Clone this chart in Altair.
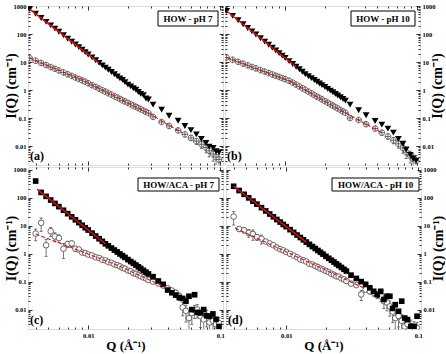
import altair as alt
import pandas as pd

FONT = "Liberation Serif"
RED = "#e01010"

# ---------------- data ----------------
Q_TOP = [0.0036, 0.0040, 0.0044, 0.0048, 0.0052, 0.0056, 0.0060, 0.0065, 0.0070, 0.0075,
         0.0080, 0.0085, 0.0090, 0.0095, 0.0100, 0.0107, 0.0114, 0.0121, 0.0128, 0.0135,
         0.0142, 0.0150, 0.0158, 0.0166, 0.0174, 0.0182, 0.0190, 0.0200, 0.0210, 0.0220,
         0.0230, 0.0240, 0.0250, 0.0262, 0.0274, 0.0286,
         0.0310, 0.0360, 0.0410, 0.0480, 0.0540, 0.0600, 0.0660, 0.0720, 0.0780, 0.0825,
         0.0885, 0.0930, 0.0980]
Q_BOT = [0.0040, 0.0044, 0.0048, 0.0052, 0.0056, 0.0060, 0.0065, 0.0070, 0.0075,
         0.0080, 0.0085, 0.0090, 0.0095, 0.0100, 0.0107, 0.0114, 0.0121, 0.0128, 0.0135,
         0.0142, 0.0150, 0.0158, 0.0166, 0.0174, 0.0182, 0.0190, 0.0200, 0.0210, 0.0220,
         0.0230, 0.0240, 0.0250, 0.0262, 0.0274, 0.0286,
         0.031, 0.034, 0.037, 0.040, 0.043, 0.046, 0.049, 0.052, 0.055, 0.058,
         0.061, 0.064, 0.067, 0.071, 0.075, 0.079, 0.083, 0.088, 0.093, 0.098]

# (a) HOW - pH 7
A_FILLED = [776, 528, 373, 272, 203, 155, 120, 90, 68, 53, 42, 34, 27.4, 22.5, 18.6, 14.6,
            11.6, 9.3, 7.6, 6.3, 5.3, 4.4, 3.65, 3.07, 2.6, 2.3, 1.91, 1.55, 1.35, 1.15,
            1.02, 0.85, 0.73, 0.66, 0.50, 0.46,
            0.30, 0.20, 0.12, 0.080, 0.052, 0.037, 0.026, 0.018, 0.013, 0.0095, 0.0085,
            0.0065, 0.0060]
A_OPEN = [13.8, 11.2, 9.2, 7.8, 6.6, 5.7, 5.0, 4.24, 3.65, 3.18, 2.79, 2.48, 2.21, 1.97,
          1.75, 1.49, 1.29, 1.12, 0.98, 0.87, 0.77, 0.68, 0.60, 0.54, 0.48, 0.43, 0.39,
          0.347, 0.31, 0.278, 0.25, 0.226, 0.206, 0.185, 0.166, 0.15,
          0.11, 0.072, 0.052, 0.036, 0.026, 0.0195, 0.015, 0.0115, 0.0088, 0.0068,
          0.0052, 0.0040, 0.0033]
A_ERR = [0.03, 0.03, 0.03, 0.03, 0.03, 0.03, 0.03, 0.03, 0.03, 0.03, 0.03, 0.03, 0.03, 0.03,
         0.04, 0.04, 0.04, 0.04, 0.04, 0.04, 0.04, 0.05, 0.05, 0.05, 0.05, 0.05, 0.05,
         0.06, 0.06, 0.06, 0.06, 0.07, 0.07, 0.08, 0.08, 0.09,
         0.08, 0.10, 0.12, 0.15, 0.18, 0.20, 0.25, 0.30, 0.35, 0.40, 0.45, 0.50, 0.55]
A_FIT_Q = [0.0036, 0.0121]
A_FIT_I = [776, 9.3]
A_DASH_Q = [0.0036, 0.0092, 0.0286, 0.052]
A_DASH_I = [13.8, 2.25, 0.15, 0.029]

# (b) HOW - pH 10
B_FILLED = [661, 444, 309, 223, 164, 124, 95.7, 70.8, 53.5, 41.2, 32.3, 25.7, 20.7, 16.9,
            13.9, 10.8, 8.5, 6.8, 5.5, 4.47, 3.69, 3.11, 2.65, 2.27, 1.97, 1.71, 1.50,
            1.28, 1.10, 0.95, 0.83, 0.73, 0.64, 0.55, 0.48, 0.42,
            0.30, 0.19, 0.125, 0.078, 0.058, 0.042, 0.030, 0.018, 0.012, 0.0075, 0.0048,
            0.0036, 0.0030]
B_OPEN = [14.5, 12.0, 10.2, 8.75, 7.62, 6.68, 5.93, 5.15, 4.53, 4.01, 3.58, 3.22, 2.92,
          2.65, 2.43, 2.15, 1.83, 1.56, 1.34, 1.16, 1.01, 0.87, 0.76, 0.66, 0.58, 0.52,
          0.46, 0.40, 0.35, 0.31, 0.275, 0.245, 0.22, 0.193, 0.171, 0.153,
          0.10, 0.085, 0.060, 0.042, 0.030, 0.022, 0.016, 0.012, 0.0085, 0.0060, 0.0045,
          0.0035, 0.0030]
B_ERR = [0.03, 0.03, 0.03, 0.03, 0.03, 0.03, 0.03, 0.03, 0.03, 0.03, 0.03, 0.03, 0.03, 0.03,
         0.04, 0.04, 0.04, 0.04, 0.04, 0.04, 0.04, 0.05, 0.05, 0.05, 0.05, 0.05, 0.05,
         0.06, 0.06, 0.06, 0.06, 0.07, 0.07, 0.08, 0.08, 0.09,
         0.08, 0.10, 0.12, 0.15, 0.18, 0.20, 0.25, 0.30, 0.35, 0.40, 0.45, 0.50, 0.55]
B_FIT_Q = [0.0036, 0.0121]
B_FIT_I = [661, 6.8]
B_DASH_Q = [0.0036, 0.0108, 0.0286, 0.054]
B_DASH_I = [14.5, 2.12, 0.153, 0.030]

# (c) HOW/ACA - pH 7
C_FILLED = [390, 153, 111, 81.8, 61.8, 47.6, 35.3, 26.7, 20.6, 16.1, 12.8, 10.3, 8.4, 6.95,
            5.38, 4.24, 3.39, 2.74, 2.24, 1.90, 1.58, 1.34, 1.14, 0.97, 0.84, 0.73, 0.61,
            0.52, 0.45, 0.39, 0.336, 0.294, 0.252, 0.217, 0.188,
            0.15, 0.105, 0.080, 0.050, 0.040, 0.033, 0.027, 0.025, 0.020, 0.030, 0.010,
            0.034, 0.0080, 0.0076, 0.010, 0.0060, 0.0058, 0.0070, 0.0045, 0.0025]
C_OPEN = [5.2, 12.5, 2.0, 6.3, 4.1, 3.6, 1.5, 2.2, 2.3, 1.5, 1.4, 1.1, 1.05, 0.93, 0.86,
          0.74, 0.70, 0.60, 0.57, 0.50, 0.47, 0.41, 0.39, 0.35, 0.31, 0.29, 0.25, 0.235,
          0.20, 0.19, 0.17, 0.155, 0.14, 0.13, 0.115,
          0.10, 0.085, 0.072, 0.058, 0.048, 0.040, 0.030, 0.012, 0.009, 0.005, 0.0075,
          0.0095, 0.010, 0.0058, 0.0045, 0.006, 0.0035, 0.0040, 0.0030, 0.0033]
C_ERR = [0.45, 0.50, 0.60, 0.35, 0.35, 0.30, 0.55, 0.25, 0.22, 0.20, 0.15, 0.12, 0.10, 0.10,
         0.08, 0.08, 0.07, 0.07, 0.06, 0.06, 0.06, 0.06, 0.06, 0.06, 0.06, 0.06, 0.06,
         0.07, 0.07, 0.07, 0.08, 0.08, 0.09, 0.10, 0.10,
         0.10, 0.12, 0.15, 0.18, 0.20, 0.25, 0.30, 0.50, 0.60, 0.70, 0.60, 0.50, 0.50,
         0.60, 0.60, 0.60, 0.70, 0.60, 0.70, 0.60]
C_FIT_Q = [0.0041, 0.0135]
C_FIT_I = [200, 2.24]
C_DASH_Q = [0.0040, 0.0166, 0.040]
C_DASH_I = [5.0, 0.387, 0.058]

# (d) HOW/ACA - pH 10
D_FILLED = [253, 179, 131, 98, 74.9, 58.3, 43.7, 33.4, 26.0, 20.6, 16.5, 13.4, 11.0, 9.18,
            7.18, 5.71, 4.60, 3.76, 3.10, 2.58, 2.14, 1.79, 1.52, 1.29, 1.11, 0.96, 0.80,
            0.68, 0.58, 0.50, 0.43, 0.377, 0.321, 0.275, 0.238,
            0.17, 0.13, 0.10, 0.080, 0.060, 0.045, 0.034, 0.045, 0.023, 0.030, 0.030,
            0.011, 0.015, 0.0087, 0.020, 0.0050, 0.0044, 0.0025, 0.0025, 0.0058]
D_OPEN = [21, 7.6, 6.8, 5.5, 5.0, 3.9, 3.4, 2.7, 2.3, 2.0, 1.65, 1.45, 1.3, 1.15, 0.98,
          0.85, 0.74, 0.62, 0.58, 0.52, 0.43, 0.41, 0.36, 0.33, 0.29, 0.27, 0.24, 0.22,
          0.19, 0.175, 0.155, 0.15, 0.13, 0.12, 0.105,
          0.085, 0.075, 0.035, 0.052, 0.045, 0.040, 0.035, 0.030, 0.020, 0.018, 0.013,
          0.0085, 0.0050, 0.0060, 0.0040, 0.0025, 0.0030, 0.0025, 0.0023, 0.0022]
D_ERR = [0.50, 0.20, 0.20, 0.30, 0.40, 0.25, 0.35, 0.15, 0.12, 0.10, 0.10, 0.09, 0.08, 0.08,
         0.07, 0.07, 0.06, 0.06, 0.06, 0.06, 0.06, 0.06, 0.06, 0.06, 0.06, 0.06, 0.06,
         0.07, 0.07, 0.07, 0.08, 0.08, 0.09, 0.10, 0.10,
         0.12, 0.15, 0.40, 0.18, 0.20, 0.25, 0.30, 0.35, 0.45, 0.50, 0.55, 0.60, 0.60,
         0.60, 0.65, 0.70, 0.60, 0.70, 0.60, 0.60]
D_FIT_Q = [0.0040, 0.0142]
D_FIT_I = [253, 2.58]
D_DASH_Q = [0.0041, 0.0388]
D_DASH_I = [8.2, 0.059]

# axis tick values
X_MAJ = [0.01, 0.1]
X_MIN = [0.004, 0.005, 0.006, 0.007, 0.008, 0.009,
         0.02, 0.03, 0.04, 0.05, 0.06, 0.07, 0.08, 0.09]
Y_MAJ = [0.01, 0.1, 1, 10, 100, 1000]
Y_MIN = [0.003, 0.004, 0.005, 0.006, 0.007, 0.008, 0.009,
         0.02, 0.03, 0.04, 0.05, 0.06, 0.07, 0.08, 0.09,
         0.2, 0.3, 0.4, 0.5, 0.6, 0.7, 0.8, 0.9,
         2, 3, 4, 5, 6, 7, 8, 9,
         20, 30, 40, 50, 60, 70, 80, 90,
         200, 300, 400, 500, 600, 700, 800, 900]

X_DOM = [0.0035, 0.105]
Y_DOM_TOP = [0.0021, 1000]
Y_DOM_BOT = [0.00203, 1238]

YTITLE = "I(Q) (cm\u207b\u00b9)"
XTITLE = "Q (\u00c5\u207b\u00b9)"
OPLUS = "M-1,0A1,1,0,1,1,1,0A1,1,0,1,1,-1,0ZM-1,0L1,0M0,-1L0,1"


def yaxis(orient, values, size, labels=False, title=None):
    d = dict(orient=orient, values=values, offset=-size, tickSize=size, tickColor="black",
             tickWidth=0.8, domain=False, grid=False, labels=labels)
    if labels:
        d.update(format="~g", labelFont=FONT, labelFontSize=6.5, labelFontWeight="bold",
                 labelColor="black", labelPadding=2, labelOverlap=False,
                 minExtent=13, maxExtent=13, title=title, titleFont=FONT,
                 titleFontSize=14, titleFontWeight="bold", titleColor="black",
                 titlePadding=1)
        if orient == "right":
            d.update(titleAngle=270, titleBaseline="top")
    else:
        d["title"] = None
    return alt.Axis(**d)


def xaxis(orient, values, size, labels=False, title=None):
    d = dict(orient=orient, values=values, offset=-size, tickSize=size, tickColor="black",
             tickWidth=0.8, domain=False, grid=False, labels=labels)
    if labels:
        d.update(format="~g", labelFont=FONT, labelFontSize=6.5, labelFontWeight="bold",
                 labelColor="black", labelPadding=3, labelOverlap=False, labelFlush=False,
                 minExtent=13, maxExtent=13, title=title, titleFont=FONT,
                 titleFontSize=13, titleFontWeight="bold", titleColor="black",
                 titlePadding=1)
    else:
        d["title"] = None
    return alt.Axis(**d)


def panel(q, filled, opn, err, fshape, fsize, oshape, fq, fi, dq, di,
          label, box, letter, side, bottom, ydom, h):
    df = pd.DataFrame({"Q": q, "F": filled, "C": opn, "E": err})
    df["lo"] = df["C"] * (1 - df["E"])
    df["hi"] = df["C"] * (1 + df["E"])
    xs = alt.Scale(type="log", domain=X_DOM)
    ys = alt.Scale(type="log", domain=ydom)
    other = "right" if side == "left" else "left"
    base = alt.Chart(df)

    err_l = base.mark_rule(color="#555555", strokeWidth=0.8, clip=True).encode(
        x=alt.X("Q:Q", scale=xs, axis=None),
        y=alt.Y("lo:Q", scale=ys, axis=None),
        y2="hi:Q")
    cap_lo = base.mark_tick(orient="horizontal", size=3, thickness=0.8,
                            color="#555555", opacity=1, clip=True).encode(
        x=alt.X("Q:Q", scale=xs, axis=None),
        y=alt.Y("lo:Q", scale=ys, axis=None))
    cap_hi = base.mark_tick(orient="horizontal", size=3, thickness=0.8,
                            color="#555555", opacity=1, clip=True).encode(
        x=alt.X("Q:Q", scale=xs, axis=None),
        y=alt.Y("hi:Q", scale=ys, axis=None))
    circ = base.mark_point(shape=oshape, fill="white", fillOpacity=1, stroke="#444444",
                           strokeWidth=0.8, size=32, opacity=1, clip=True).encode(
        x=alt.X("Q:Q", scale=xs,
                axis=xaxis("bottom", X_MAJ, 4, labels=bottom,
                           title=XTITLE if bottom else None)),
        y=alt.Y("C:Q", scale=ys, axis=yaxis(side, Y_MAJ, 4, labels=True, title=YTITLE)))
    fill = base.mark_point(shape=fshape, filled=True, color="black", size=fsize,
                           opacity=1, clip=True).encode(
        x=alt.X("Q:Q", scale=xs, axis=xaxis("bottom", X_MIN, 2)),
        y=alt.Y("F:Q", scale=ys, axis=yaxis(side, Y_MIN, 2)))
    solid = alt.Chart(pd.DataFrame({"Q": fq, "I": fi})).mark_line(
        color=RED, strokeWidth=1.4, clip=True).encode(
        x=alt.X("Q:Q", scale=xs, axis=xaxis("top", X_MAJ, 4)),
        y=alt.Y("I:Q", scale=ys, axis=yaxis(other, Y_MAJ, 4)))
    dashed = alt.Chart(pd.DataFrame({"Q": dq, "I": di})).mark_line(
        color=RED, strokeWidth=1.1, strokeDash=[4, 2], clip=True).encode(
        x=alt.X("Q:Q", scale=xs, axis=xaxis("top", X_MIN, 2)),
        y=alt.Y("I:Q", scale=ys, axis=yaxis(other, Y_MIN, 2)))

    x0, x1, y0, y1 = box
    lab = pd.DataFrame({"t": [label]})
    rect = alt.Chart(lab).mark_rect(fill="white", stroke="black", strokeWidth=1).encode(
        x=alt.value(x0), x2=alt.value(x1), y=alt.value(y0), y2=alt.value(y1))
    txt = alt.Chart(lab).mark_text(font=FONT, fontSize=9, fontWeight="bold",
                                   color="black", align="center",
                                   baseline="middle").encode(
        text="t:N", x=alt.value((x0 + x1) / 2), y=alt.value((y0 + y1) / 2 + 0.5))
    let = alt.Chart(pd.DataFrame({"t": [letter]})).mark_text(
        font=FONT, fontSize=12, fontWeight="bold", color="black", align="left",
        baseline="middle").encode(text="t:N", x=alt.value(2), y=alt.value(h - 9))

    return alt.layer(err_l, cap_lo, cap_hi, circ, fill, solid, dashed, rect, txt, let).resolve_axis(
        x="independent", y="independent").properties(width=195, height=h)


pa = panel(Q_TOP, A_FILLED, A_OPEN, A_ERR, "triangle-down", 46, OPLUS,
           A_FIT_Q, A_FIT_I, A_DASH_Q, A_DASH_I, "HOW - pH 7", (130, 190, 5, 20),
           "(a)", "left", False, Y_DOM_TOP, 159)
pb = panel(Q_TOP, B_FILLED, B_OPEN, B_ERR, "triangle-down", 46, OPLUS,
           B_FIT_Q, B_FIT_I, B_DASH_Q, B_DASH_I, "HOW - pH 10", (126, 190, 5, 20),
           "(b)", "right", False, Y_DOM_TOP, 159)
pc = panel(Q_BOT, C_FILLED, C_OPEN, C_ERR, "square", 32, "circle",
           C_FIT_Q, C_FIT_I, C_DASH_Q, C_DASH_I, "HOW/ACA - pH 7", (110, 191, 11, 24),
           "(c)", "left", True, Y_DOM_BOT, 162)
pd_ = panel(Q_BOT, D_FILLED, D_OPEN, D_ERR, "square", 32, "circle",
            D_FIT_Q, D_FIT_I, D_DASH_Q, D_DASH_I, "HOW/ACA - pH 10", (106, 193, 11, 24),
            "(d)", "right", True, Y_DOM_BOT, 162)

chart = alt.vconcat(
    alt.hconcat(pa, pb, spacing=0),
    alt.hconcat(pc, pd_, spacing=0),
    spacing=0,
).properties(
    padding={"left": 3, "top": 2, "right": 0, "bottom": 0},
    background="white",
).configure_view(stroke="black", strokeWidth=1).configure(font=FONT)

chart.save("out.html", embed_options={"renderer": "svg", "actions": False})
